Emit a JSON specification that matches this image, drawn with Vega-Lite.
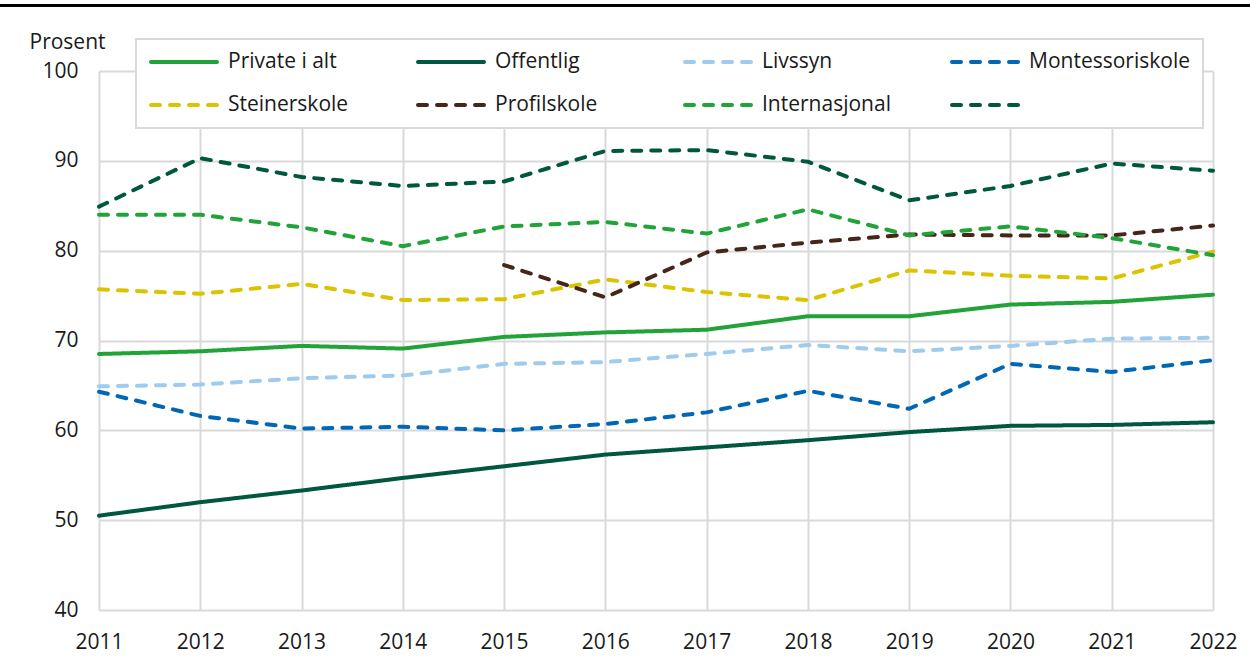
{
  "$schema": "https://vega.github.io/schema/vega-lite/v6.json",
  "width": 1114,
  "height": 539,
  "autosize": {"type": "none"},
  "padding": {"left": 99, "top": 71, "right": 37, "bottom": 50},
  "background": "white",
  "config": {
    "font": "Open Sans",
    "view": {"stroke": null},
    "axis": {
      "labelFont": "Open Sans",
      "labelFontSize": 21,
      "labelColor": "#1a1a1a",
      "gridColor": "#d9d9d9",
      "gridWidth": 2,
      "domain": false,
      "ticks": false,
      "labelPadding": 21
    },
    "legend": {
      "labelFont": "Open Sans",
      "labelFontSize": 21,
      "labelColor": "#1a1a1a"
    }
  },
  "data": {
    "values": [
      {"aar": 2011, "serie": "Private i alt", "verdi": 68.5},
      {"aar": 2012, "serie": "Private i alt", "verdi": 68.8},
      {"aar": 2013, "serie": "Private i alt", "verdi": 69.4},
      {"aar": 2014, "serie": "Private i alt", "verdi": 69.1},
      {"aar": 2015, "serie": "Private i alt", "verdi": 70.4},
      {"aar": 2016, "serie": "Private i alt", "verdi": 70.9},
      {"aar": 2017, "serie": "Private i alt", "verdi": 71.2},
      {"aar": 2018, "serie": "Private i alt", "verdi": 72.7},
      {"aar": 2019, "serie": "Private i alt", "verdi": 72.7},
      {"aar": 2020, "serie": "Private i alt", "verdi": 74.0},
      {"aar": 2021, "serie": "Private i alt", "verdi": 74.3},
      {"aar": 2022, "serie": "Private i alt", "verdi": 75.1},
      {"aar": 2011, "serie": "Offentlig", "verdi": 50.5},
      {"aar": 2012, "serie": "Offentlig", "verdi": 52.0},
      {"aar": 2013, "serie": "Offentlig", "verdi": 53.3},
      {"aar": 2014, "serie": "Offentlig", "verdi": 54.7},
      {"aar": 2015, "serie": "Offentlig", "verdi": 56.0},
      {"aar": 2016, "serie": "Offentlig", "verdi": 57.3},
      {"aar": 2017, "serie": "Offentlig", "verdi": 58.1},
      {"aar": 2018, "serie": "Offentlig", "verdi": 58.9},
      {"aar": 2019, "serie": "Offentlig", "verdi": 59.8},
      {"aar": 2020, "serie": "Offentlig", "verdi": 60.5},
      {"aar": 2021, "serie": "Offentlig", "verdi": 60.6},
      {"aar": 2022, "serie": "Offentlig", "verdi": 60.9},
      {"aar": 2011, "serie": "Livssyn", "verdi": 64.9},
      {"aar": 2012, "serie": "Livssyn", "verdi": 65.1},
      {"aar": 2013, "serie": "Livssyn", "verdi": 65.8},
      {"aar": 2014, "serie": "Livssyn", "verdi": 66.1},
      {"aar": 2015, "serie": "Livssyn", "verdi": 67.4},
      {"aar": 2016, "serie": "Livssyn", "verdi": 67.6},
      {"aar": 2017, "serie": "Livssyn", "verdi": 68.5},
      {"aar": 2018, "serie": "Livssyn", "verdi": 69.5},
      {"aar": 2019, "serie": "Livssyn", "verdi": 68.8},
      {"aar": 2020, "serie": "Livssyn", "verdi": 69.4},
      {"aar": 2021, "serie": "Livssyn", "verdi": 70.2},
      {"aar": 2022, "serie": "Livssyn", "verdi": 70.3},
      {"aar": 2011, "serie": "Montessoriskole", "verdi": 64.3},
      {"aar": 2012, "serie": "Montessoriskole", "verdi": 61.6},
      {"aar": 2013, "serie": "Montessoriskole", "verdi": 60.2},
      {"aar": 2014, "serie": "Montessoriskole", "verdi": 60.4},
      {"aar": 2015, "serie": "Montessoriskole", "verdi": 60.0},
      {"aar": 2016, "serie": "Montessoriskole", "verdi": 60.7},
      {"aar": 2017, "serie": "Montessoriskole", "verdi": 62.0},
      {"aar": 2018, "serie": "Montessoriskole", "verdi": 64.4},
      {"aar": 2019, "serie": "Montessoriskole", "verdi": 62.4},
      {"aar": 2020, "serie": "Montessoriskole", "verdi": 67.4},
      {"aar": 2021, "serie": "Montessoriskole", "verdi": 66.5},
      {"aar": 2022, "serie": "Montessoriskole", "verdi": 67.8},
      {"aar": 2011, "serie": "Steinerskole", "verdi": 75.7},
      {"aar": 2012, "serie": "Steinerskole", "verdi": 75.2},
      {"aar": 2013, "serie": "Steinerskole", "verdi": 76.3},
      {"aar": 2014, "serie": "Steinerskole", "verdi": 74.5},
      {"aar": 2015, "serie": "Steinerskole", "verdi": 74.6},
      {"aar": 2016, "serie": "Steinerskole", "verdi": 76.8},
      {"aar": 2017, "serie": "Steinerskole", "verdi": 75.4},
      {"aar": 2018, "serie": "Steinerskole", "verdi": 74.5},
      {"aar": 2019, "serie": "Steinerskole", "verdi": 77.8},
      {"aar": 2020, "serie": "Steinerskole", "verdi": 77.2},
      {"aar": 2021, "serie": "Steinerskole", "verdi": 76.9},
      {"aar": 2022, "serie": "Steinerskole", "verdi": 79.9},
      {"aar": 2015, "serie": "Profilskole", "verdi": 78.4},
      {"aar": 2016, "serie": "Profilskole", "verdi": 74.8},
      {"aar": 2017, "serie": "Profilskole", "verdi": 79.8},
      {"aar": 2018, "serie": "Profilskole", "verdi": 80.9},
      {"aar": 2019, "serie": "Profilskole", "verdi": 81.8},
      {"aar": 2020, "serie": "Profilskole", "verdi": 81.7},
      {"aar": 2021, "serie": "Profilskole", "verdi": 81.7},
      {"aar": 2022, "serie": "Profilskole", "verdi": 82.8},
      {"aar": 2011, "serie": "Internasjonal", "verdi": 84.0},
      {"aar": 2012, "serie": "Internasjonal", "verdi": 84.0},
      {"aar": 2013, "serie": "Internasjonal", "verdi": 82.6},
      {"aar": 2014, "serie": "Internasjonal", "verdi": 80.5},
      {"aar": 2015, "serie": "Internasjonal", "verdi": 82.7},
      {"aar": 2016, "serie": "Internasjonal", "verdi": 83.2},
      {"aar": 2017, "serie": "Internasjonal", "verdi": 81.9},
      {"aar": 2018, "serie": "Internasjonal", "verdi": 84.6},
      {"aar": 2019, "serie": "Internasjonal", "verdi": 81.7},
      {"aar": 2020, "serie": "Internasjonal", "verdi": 82.7},
      {"aar": 2021, "serie": "Internasjonal", "verdi": 81.4},
      {"aar": 2022, "serie": "Internasjonal", "verdi": 79.5},
      {"aar": 2011, "serie": "", "verdi": 84.9},
      {"aar": 2012, "serie": "", "verdi": 90.3},
      {"aar": 2013, "serie": "", "verdi": 88.2},
      {"aar": 2014, "serie": "", "verdi": 87.2},
      {"aar": 2015, "serie": "", "verdi": 87.7},
      {"aar": 2016, "serie": "", "verdi": 91.1},
      {"aar": 2017, "serie": "", "verdi": 91.2},
      {"aar": 2018, "serie": "", "verdi": 89.9},
      {"aar": 2019, "serie": "", "verdi": 85.6},
      {"aar": 2020, "serie": "", "verdi": 87.2},
      {"aar": 2021, "serie": "", "verdi": 89.7},
      {"aar": 2022, "serie": "", "verdi": 88.9}
    ]
  },
  "layer": [
    {
      "mark": {"type": "line", "strokeWidth": 4, "strokeCap": "round", "strokeJoin": "round"},
      "encoding": {
        "x": {
          "field": "aar",
          "type": "quantitative",
          "scale": {"domain": [2011, 2022], "nice": false, "zero": false},
          "axis": {
            "title": null,
            "values": [2011, 2012, 2013, 2014, 2015, 2016, 2017, 2018, 2019, 2020, 2021, 2022],
            "format": "d",
            "labelFlush": false,
            "labelOverlap": false
          }
        },
        "y": {
          "field": "verdi",
          "type": "quantitative",
          "scale": {"domain": [40, 100], "nice": false, "zero": false},
          "axis": {
            "values": [40, 50, 60, 70, 80, 90, 100],
            "title": "Prosent",
            "titleAngle": 0,
            "titleX": -70,
            "titleY": -23,
            "titleAlign": "left",
            "titleBaseline": "alphabetic",
            "titleFont": "Open Sans",
            "titleFontSize": 21,
            "titleFontWeight": "normal",
            "titleColor": "#1a1a1a"
          }
        },
        "color": {
          "field": "serie",
          "type": "nominal",
          "scale": {
            "domain": ["Private i alt", "Offentlig", "Livssyn", "Montessoriskole", "Steinerskole", "Profilskole", "Internasjonal", ""],
            "range": ["#22a33a", "#00573f", "#9ecbee", "#0067b4", "#dcc300", "#45261a", "#22a33a", "#00573f"]
          },
          "legend": {
            "title": null,
            "orient": "none",
            "legendX": 37,
            "legendY": -32,
            "direction": "horizontal",
            "columns": 4,
            "gridAlign": "all",
            "columnPadding": 27,
            "rowPadding": 22,
            "clipHeight": 20,
            "padding": 13,
            "symbolType": "stroke",
            "symbolSize": 4356,
            "symbolStrokeWidth": 4,
            "labelOffset": 9,
            "strokeColor": "#d9d9d9",
            "fillColor": "white",
            "labelLimit": 300,
            "encode": {
              "symbols": {"update": {"strokeCap": {"value": "round"}}},
              "legend": {"update": {"strokeWidth": {"value": 2}}}
            }
          }
        },
        "strokeDash": {
          "field": "serie",
          "type": "nominal",
          "scale": {
            "domain": ["Private i alt", "Offentlig", "Livssyn", "Montessoriskole", "Steinerskole", "Profilskole", "Internasjonal", ""],
            "range": [[1, 0], [1, 0], [9, 10], [9, 10], [9, 10], [9, 10], [9, 10], [9, 10]]
          },
          "legend": {
            "title": null,
            "orient": "none",
            "legendX": 37,
            "legendY": -32,
            "direction": "horizontal",
            "columns": 4,
            "gridAlign": "all",
            "columnPadding": 27,
            "rowPadding": 22,
            "clipHeight": 20,
            "padding": 13,
            "symbolType": "stroke",
            "symbolSize": 4356,
            "symbolStrokeWidth": 4,
            "labelOffset": 9,
            "strokeColor": "#d9d9d9",
            "fillColor": "white",
            "labelLimit": 300,
            "encode": {
              "symbols": {"update": {"strokeCap": {"value": "round"}}},
              "legend": {"update": {"strokeWidth": {"value": 2}}}
            }
          }
        }
      }
    },
    {
      "mark": {"type": "rule", "color": "black", "strokeWidth": 3, "clip": false},
      "encoding": {
        "x": {"datum": 2010.022, "type": "quantitative", "scale": {"domain": [2011, 2022], "nice": false, "zero": false}},
        "x2": {"datum": 2022.37},
        "y": {"datum": 107.3, "type": "quantitative", "scale": {"domain": [40, 100], "nice": false, "zero": false}}
      }
    }
  ]
}
